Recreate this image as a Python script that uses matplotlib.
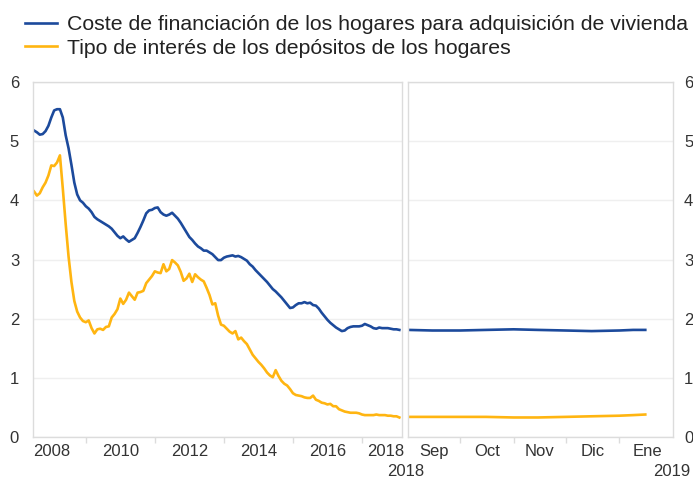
import numpy as np
import matplotlib
matplotlib.use("Agg")
import matplotlib.pyplot as plt

plt.rcParams['font.family'] = ['Liberation Sans', 'DejaVu Sans']

# %% Data
# ----------------------------------------------------------------------
# monthly, Jan 2008 .. Aug 2018 (month index 0..127)
coste_vivienda = [
    5.18, 5.15, 5.11, 5.12, 5.17, 5.26, 5.40, 5.52, 5.54, 5.54,
    5.40, 5.10, 4.88, 4.60, 4.30, 4.10, 4.00, 3.96, 3.90, 3.86,
    3.80, 3.72, 3.68, 3.65, 3.62, 3.59, 3.56, 3.52, 3.46, 3.40,
    3.36, 3.39, 3.34, 3.30, 3.33, 3.36, 3.45, 3.55, 3.66, 3.78,
    3.83, 3.84, 3.87, 3.88, 3.80, 3.76, 3.74, 3.76, 3.79, 3.74,
    3.69, 3.62, 3.54, 3.46, 3.38, 3.33, 3.27, 3.22, 3.19, 3.15,
    3.15, 3.12, 3.09, 3.04, 2.99, 2.99, 3.03, 3.05, 3.06, 3.07,
    3.05, 3.06, 3.04, 3.01, 2.98, 2.92, 2.88, 2.82, 2.77, 2.72,
    2.67, 2.62, 2.56, 2.50, 2.46, 2.41, 2.36, 2.30, 2.24, 2.18,
    2.19, 2.23, 2.26, 2.26, 2.28, 2.26, 2.27, 2.23, 2.22, 2.17,
    2.10, 2.04, 1.98, 1.93, 1.89, 1.85, 1.82, 1.79, 1.80, 1.84,
    1.86, 1.87, 1.87, 1.87, 1.88, 1.91, 1.89, 1.87, 1.84, 1.83,
    1.85, 1.84, 1.84, 1.84, 1.83, 1.82, 1.82, 1.81,
]
tipo_depositos = [
    4.15, 4.08, 4.12, 4.22, 4.30, 4.42, 4.59, 4.58, 4.64, 4.76,
    4.20, 3.60, 3.05, 2.62, 2.30, 2.12, 2.02, 1.96, 1.94, 1.97,
    1.84, 1.75, 1.82, 1.83, 1.81, 1.86, 1.87, 2.02, 2.08, 2.16,
    2.34, 2.25, 2.32, 2.44, 2.38, 2.32, 2.44, 2.45, 2.47, 2.60,
    2.66, 2.72, 2.80, 2.78, 2.77, 2.92, 2.80, 2.84, 2.99, 2.95,
    2.90, 2.79, 2.64, 2.68, 2.76, 2.62, 2.75, 2.70, 2.66, 2.63,
    2.52, 2.40, 2.24, 2.26, 2.05, 1.90, 1.88, 1.83, 1.78, 1.75,
    1.79, 1.65, 1.68, 1.62, 1.57, 1.48, 1.39, 1.33, 1.27, 1.22,
    1.16, 1.09, 1.04, 1.01, 1.13, 1.03, 0.95, 0.90, 0.87, 0.81,
    0.74, 0.71, 0.70, 0.69, 0.67, 0.66, 0.66, 0.70, 0.63, 0.61,
    0.58, 0.57, 0.55, 0.56, 0.52, 0.52, 0.47, 0.45, 0.43, 0.42,
    0.41, 0.41, 0.41, 0.40, 0.38, 0.37, 0.37, 0.37, 0.37, 0.38,
    0.37, 0.37, 0.37, 0.36, 0.36, 0.35, 0.35, 0.33,
]

# recent period, days since 1 Sep 2018
dias_recientes = [0, 14, 30, 45, 61, 75, 91, 106, 122, 130, 137]
coste_reciente = [1.81, 1.80, 1.80, 1.81, 1.82, 1.81, 1.80, 1.79, 1.80, 1.81, 1.81]
depos_reciente = [0.34, 0.34, 0.34, 0.34, 0.33, 0.33, 0.34, 0.35, 0.36, 0.37, 0.38]

etiquetas_anios = ['2008', '2010', '2012', '2014', '2016', '2018']
etiquetas_meses = ['Sep', 'Oct', 'Nov', 'Dic', 'Ene']
inicio_meses = [0, 30, 61, 91, 122, 153]  # Sep 1 .. Feb 1

nombres = ['Coste de financiación de los hogares para adquisición de vivienda',
           'Tipo de interés de los depósitos de los hogares']

azul = '#1c4a9c'
amarillo = '#ffb511'
gris_marco = '#dcdcdc'
gris_rejilla = '#efefef'
gris_texto = '#333333'

# %% Figure
# ----------------------------------------------------------------------
fig = plt.figure(figsize=(6.93, 4.78), dpi=100)
ax1 = fig.add_axes([33/693, 1-437/478, 369/693, 355/478])
ax2 = fig.add_axes([408/693, 1-437/478, 265/693, 355/478])

x_mes = 2008 + np.arange(len(coste_vivienda)) / 12
l1, = ax1.plot(x_mes, coste_vivienda, color=azul, lw=1.9, solid_joinstyle='round')
l2, = ax1.plot(x_mes, tipo_depositos, color=amarillo, lw=1.9, solid_joinstyle='round')
ax2.plot(dias_recientes, coste_reciente, color=azul, lw=1.9)
ax2.plot(dias_recientes, depos_reciente, color=amarillo, lw=1.9)

ax1.set_xlim(2007.97, 2018.66)
ax2.set_xlim(0, 153)

for ax in (ax1, ax2):
    ax.set_ylim(0, 6)
    ax.set_yticks(range(7))
    ax.grid(axis='y', color=gris_rejilla, lw=1)
    ax.set_axisbelow(True)
    for s in ax.spines.values():
        s.set_color(gris_marco)
        s.set_linewidth(1)
    ax.tick_params(axis='both', colors=gris_marco, labelcolor=gris_texto,
                   labelsize=12, length=0)

ax1.tick_params(axis='y', pad=10)
ax2.yaxis.tick_right()
ax2.tick_params(axis='y', pad=8, length=0)

# year labels centred in year, ticks every two years
pos_anios = [2008.5, 2010.5, 2012.5, 2014.5, 2016.5, 2018.2]
ax1.set_xticks(pos_anios)
ax1.set_xticklabels(etiquetas_anios)
ax1.set_xticks([2009.5, 2011.5, 2013.5, 2015.5, 2017.5], minor=True)
ax1.tick_params(axis='x', which='minor', length=4, color=gris_marco, width=1)
ax1.tick_params(axis='x', pad=5)

centros = [(a + b) / 2 for a, b in zip(inicio_meses[:-1], inicio_meses[1:])]
centros[-1] = 138
ax2.set_xticks(centros)
ax2.set_xticklabels(etiquetas_meses)
ax2.set_xticks(inicio_meses[1:-1], minor=True)
ax2.tick_params(axis='x', which='minor', length=4, color=gris_marco, width=1)
ax2.tick_params(axis='x', pad=5)

fig.text(406/693, 1-471/478, '2018', ha='center', va='center', fontsize=12, color=gris_texto)
fig.text(672/693, 1-472/478, '2019', ha='center', va='center', fontsize=12, color=gris_texto)

fig.legend([l1, l2], nombres, loc='upper left', bbox_to_anchor=(10/693, 0.999),
           frameon=False, fontsize=15.3, handlelength=1.5, handletextpad=0.5,
           labelspacing=0.2, borderaxespad=0.3, labelcolor='#222222')

fig.savefig('out.png', dpi=100)
